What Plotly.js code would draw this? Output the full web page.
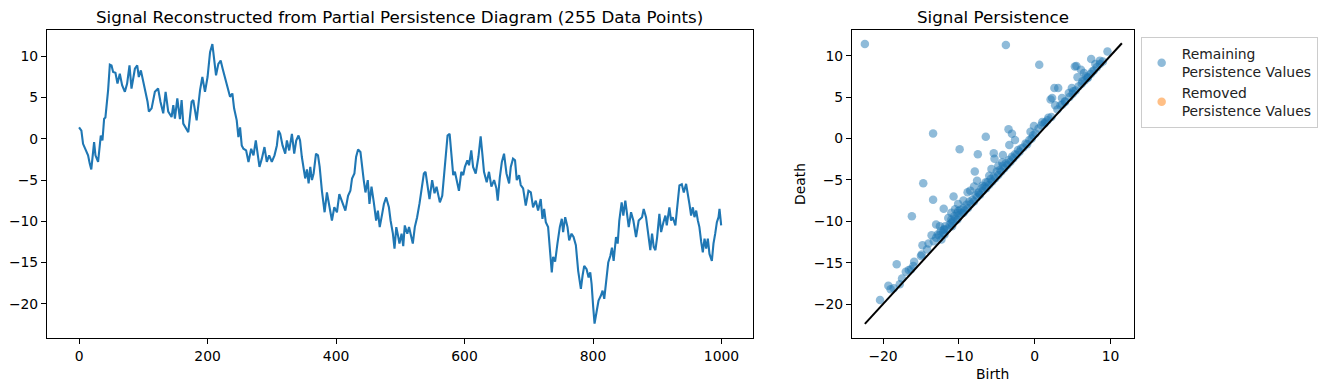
<!DOCTYPE html>
<html>
<head>
<meta charset="utf-8">
<script src="https://cdn.plot.ly/plotly-3.0.1.min.js"></script>
<style>html,body{margin:0;padding:0;background:#fff;}</style>
</head>
<body>
<div id="chart" style="width:1331px;height:391px;"></div>
<script>
// Signal (time index, value)
const signalT = [0,3.6,6.2,11,14,16.6,19,23.4,25.5,29.6,33.8,36.4,39,41,45.2,47.9,50.5,53,56.6,59.8,63.4,67,71.3,74.8,78.5,81.6,86.9,90.5,93,96.2,99.8,103.5,106.6,108.7,112.9,118,123,126.7,131,134.7,138.8,144,146.7,149.2,152.9,
157,159.6,162.2,165,170,175.2,177.8,183,188.3,191.9,196,200,203.9,207.5,210.1,213.2,216.8,220.4,223.5,227.3,231,235,238.6,241.3,245.4,248,250.6,253.2,255.8,260,263.7,267.9,271.5,275.1,278.3,280.8,284.5,288.6,292.2,295.9,300,304.2,307.9,310.5,313.1,316.7,320.9,323.5,327.1,331.3,334.9,338,341.6,
344,346.8,349.5,352,354.7,357.3,359.9,362.5,365.1,368.8,371.9,374.5,378,382.2,385.8,389.4,393.6,397.3,401.4,405.1,408.2,411.9,414.5,418.7,422.3,424.9,428.6,431.2,434.3,438,440.6,443.1,445.8,449.4,452,455.2,458.8,462.4,465.1,468,471.8,474.5,478,482.3,484.9,488.5,491,493.8,496.4,498.7,502,504.6,507,510.9,513.6,517.2,519.5,522.6,526.2,
530,533,536.7,539.3,541.9,545.5,549.6,553.3,556.4,559,561.6,565.3,569.4,573.6,576.8,579.4,582.4,585,587.6,591.3,595,598,600.6,604.4,607,610.5,613.3,617.4,621.6,625.1,627.7,630.3,634.5,638.1,641.8,646,649.6,651.7,654.9,658.1,661.5,665.3,669.4,672,675.5,678.6,681.3,684.9,687.5,691.2,695.3,699.5,703.2,706.7,710.9,714.5,
718.6,721.3,723.9,726.5,730.1,732.7,735.8,737.9,741,744.6,748.3,751.4,753.5,756.7,760.3,762.9,766.6,769.7,773.3,776.9,781.1,783.7,786.3,790,793.1,795.7,797.8,800.3,802.4,805.5,808.6,812.3,814.9,817.5,820.1,823.7,826.9,829.5,832.1,835.8,838.4,840.9,844.6,847.2,850.3,852.4,855.6,859.2,862.8,867,871.1,
876.3,878.9,882.5,886.1,889.2,891.9,894.5,897.1,899.7,903.3,906,909.6,912.7,914.8,918.9,921.5,924.1,928.2,932,934.5,938.2,941.3,944.9,947.5,950.1,952.7,955.4,957.9,960.6,963.2,965.6,968.4,970.9,973.6,976.2,978.7,981.3,985,987.5,990.2,992.8,995.4,996.9,999.5];
const signalV = [1.4,1.0,-0.6,-1.4,-2.0,-3.0,-3.7,-0.4,-2.0,-2.8,0.4,-0.2,2.45,2.6,5.9,9.0,8.9,8.1,8.0,6.7,7.9,6.5,5.7,6.7,8.9,6.1,8.5,8.9,7.5,8.3,7.1,5.5,4.5,3.3,3.7,5.7,6.1,4.5,3.1,5.7,3.3,2.65,4.1,2.45,4.9,
2.4,4.7,1.85,1.5,0.8,4.5,4.7,2.25,5.9,7.5,5.7,7.5,10.5,11.5,9.9,7.7,9.1,9.5,8.5,7.3,6.5,5.1,5.5,3.7,2.25,0.2,1.4,-0.8,-1.2,-1.4,-2.8,-1.2,-2.0,-0.2,-2.0,-3.4,-2.4,-1.0,-2.8,-2.0,-2.8,-2.0,-0.8,1.0,0.6,-0.8,-1.8,-0.2,-1.4,0.6,-1.8,-0.2,0.4,
-0.2,-2.2,-3.4,-4.8,-3.7,-5.4,-3.4,-5.0,-4.2,-1.8,-2.0,-3.4,-6.3,-8.9,-6.5,-8.0,-9.9,-8.3,-8.9,-6.7,-7.3,-8.0,-8.7,-6.9,-6.3,-4.8,-4.2,-2.2,-1.3,-1.6,-3.7,-5.0,-6.5,-5.0,-7.9,-5.8,-7.7,-9.9,-8.7,-10.7,-9.1,-7.9,-7.1,-8.3,-9.9,-11.5,-13.3,-10.7,-11.7,-12.7,-11.5,-13.0,-10.5,-11.5,-10.7,-12.0,-12.7,-10.7,-9.5,
-7.8,-6.05,-4.2,-4.0,-5.3,-7.3,-5.0,-6.6,-5.8,-7.0,-7.7,-6.9,-3.4,0.4,0.6,-1.8,-4.4,-4.0,-4.9,-6.3,-4.0,-4.4,-3.4,-2.6,-3.2,-1.4,-3.4,-4.2,-2.2,0.3,-1.8,-4.0,-5.25,-4.0,-5.8,-5.0,-6.0,-7.5,-4.7,-2.8,-1.8,-4.2,-5.4,-3.4,-2.4,-2.6,-5.0,-4.4,-5.6,-6.0,-8.1,-6.3,-6.5,-8.3,-7.5,-8.7,
-7.3,-9.7,-8.5,-10.1,-10.7,-13.1,-16.2,-14.3,-14.9,-12.7,-10.7,-9.7,-11.3,-9.5,-10.7,-12.3,-11.5,-11.9,-12.9,-16.0,-18.2,-16.6,-15.4,-15.8,-16.8,-16.2,-17.6,-20.4,-22.4,-21.0,-19.6,-19.0,-18.4,-19.4,-17.8,-15.0,-14.2,-13.2,-14.8,-11.9,-12.7,-9.9,-7.7,-9.3,-7.5,-8.7,-10.7,-8.9,-9.9,-11.9,-9.9,
-9.5,-8.5,-9.5,-12.1,-13.5,-11.5,-13.1,-13.5,-12.0,-9.1,-11.3,-10.1,-9.3,-10.5,-8.3,-9.9,-9.5,-10.5,-7.9,-5.65,-5.5,-6.5,-5.45,-6.5,-7.9,-9.3,-8.3,-9.5,-8.7,-9.9,-10.7,-12.5,-13.75,-12.1,-13.3,-12.1,-13.95,-14.8,-12.7,-11.5,-10.1,-9.5,-8.5,-10.5];

// Persistence diagram (birth, death)
const birth = [-22.4,-3.8,9.6,0.6,-13.4,-6.45,-9.9,-7.5,-14.7,-13.4,-7.9,-7.6,-16.2,-10.7,-12.0,-18.2,-20.4,-19.3,-19.0,-17.8,-17.0,-16.6,-15.9,-14.8,-14.9,-14.0,-13.6,-13.0,-12.5,-12.8,-12.3,
5.5,5.3,7.45,8.6,8.0,5.65,6.3,6.75,7.0,7.6,6.5,6.1,2.6,3.1,2.1,2.3,2.7,3.6,3.65,4.9,5.1,4.5,4.0,1.0,1.4,1.8,-0.1,-0.55,-3.45,-3.0,-2.6,-3.35,-4.2,-4.3,-5.3,-5.4,-4.8,-5.7,-6.0,-6.45,-6.9,-7.4,-8.0,-8.5,-8.85,-9.4,-10.1,-10.5,-11.0,-10.1,-9.4,-11.4,-11.0,-10.2,-11.9,-12.1,-11.9,-10.9,
-12.0,-11.8,-11.5,-11.2,-11.0,-10.8,-10.6,-10.4,-10.2,-10.0,-9.8,-9.6,-9.4,-9.2,-9.0,-8.8,-8.6,-8.4,-8.2,-8.0,-7.8,-7.6,-7.4,-7.2,-7.0,-6.8,-6.6,-6.4,-6.2,-6.0,-5.8,-5.6,-5.4,-5.2,-5.0,-4.8,-4.6,-4.4,-4.2,-4.0,-3.8,-3.6,-3.4,-3.2,-3.0,-2.8,-2.6,-2.4,-2.2,-2.0,-1.8,-1.5,-1.2,-1.0,-0.7,-0.4,-0.2,0.1,0.5,0.9,1.3,1.7,2.2,3.0,3.4,4.0,4.6,5.0,5.4,5.8,6.2,6.6,7.0,7.4,7.8,8.2,8.6,9.0,
-13.0,-12.6,-12.4,-13.3,-14.2,-15.0,-16.0,-16.3,-17.5,-18.6];
const death = [11.4,11.3,10.5,8.9,0.6,0.2,-1.3,-1.9,-5.4,-7.4,-4.0,-5.1,-9.4,-7.0,-8.5,-15.2,-19.5,-17.8,-18.2,-17.6,-16.1,-15.9,-14.9,-12.9,-14.0,-12.7,-11.7,-10.4,-10.6,-11.6,-12.2,
8.75,8.7,9.6,9.4,9.0,7.4,6.9,7.5,7.3,8.1,7.9,8.3,6.1,6.1,4.7,4.9,4.0,4.9,4.1,6.1,5.7,5.5,4.5,2.0,1.95,2.5,1.5,0.8,1.1,0.57,-0.2,-0.8,-2.0,-2.9,-2.45,-1.8,-3.3,-3.7,-4.5,-5.3,-5.7,-6.5,-5.8,-6.3,-6.5,-7.5,-7.9,-8.55,-8.96,-8.75,-8.96,-9.6,-10.2,-9.8,-11.0,-11.4,-11.6,-10.6,
-11.0,-10.6,-10.9,-10.4,-9.8,-10.0,-9.4,-9.7,-9.0,-9.3,-8.6,-9.0,-8.4,-8.7,-8.0,-8.4,-7.6,-7.9,-7.4,-7.6,-6.8,-7.1,-6.6,-6.8,-6.0,-6.3,-5.8,-6.0,-5.3,-5.6,-4.9,-5.2,-4.6,-4.8,-4.0,-4.4,-3.8,-4.0,-3.3,-3.6,-3.0,-3.2,-2.6,-2.8,-2.2,-2.4,-1.9,-2.0,-1.4,-1.6,-1.2,-1.1,-0.6,-0.7,-0.2,0.0,0.4,0.6,1.2,1.6,1.8,2.2,2.6,3.5,4.0,4.4,5.0,5.4,5.8,6.3,6.6,7.0,7.4,7.8,8.2,8.6,9.0,9.3,
-12.0,-11.7,-11.2,-12.4,-13.4,-14.2,-15.4,-15.8,-16.9,-18.1];

const leftTitle = "Signal Reconstructed from Partial Persistence Diagram (255 Data Points)";
const rightTitle = "Signal Persistence";
const legendNames = ["Remaining<br>Persistence Values", "Removed<br>Persistence Values"];
const xTicksLeft = [0,200,400,600,800,1000];

const lo = Math.min(...signalV), hi = Math.max(...signalV);
const F = "DejaVu Sans, Arial, sans-serif";
const blue = "#1f77b4", orange = "#ff7f0e";

const traces = [
  {x: signalT, y: signalV, type: "scatter", mode: "lines", line: {color: blue, width: 2.1}, showlegend: false, xaxis: "x", yaxis: "y", hoverinfo: "skip"},
  {x: birth, y: death, type: "scatter", mode: "markers", name: legendNames[0], marker: {color: blue, size: 8.5, opacity: 0.5, line: {width: 0}}, xaxis: "x2", yaxis: "y2"},
  {x: [null], y: [null], type: "scatter", mode: "markers", name: legendNames[1], marker: {color: orange, size: 8.5, opacity: 0.5, line: {width: 0}}, xaxis: "x2", yaxis: "y2"},
  {x: [lo, hi], y: [lo, hi], type: "scatter", mode: "lines", line: {color: "black", width: 2}, showlegend: false, xaxis: "x2", yaxis: "y2"}
];

const ax = {showline: true, mirror: true, linecolor: "black", linewidth: 1, ticks: "outside", ticklen: 5, tickwidth: 1, tickcolor: "black",
  showgrid: false, zeroline: false, tickfont: {family: F, size: 13.9, color: "black"}};

const yTop = 0.9233, yBot = 0.1355;
const layout = {
  width: 1331, height: 391, margin: {l: 0, r: 0, t: 0, b: 0},
  paper_bgcolor: "white", plot_bgcolor: "white",
  font: {family: F, size: 13.9, color: "black"},
  xaxis: Object.assign({}, ax, {domain: [0.0353, 0.5657], range: [-49.95, 1048.95], tickvals: xTicksLeft, anchor: "y"}),
  yaxis: Object.assign({}, ax, {domain: [yBot, yTop], range: [-24.15, 13.2], dtick: 5, anchor: "x"}),
  xaxis2: Object.assign({}, ax, {domain: [0.6401, 0.852], range: [-24.1, 13.1], dtick: 10, anchor: "y2"}),
  yaxis2: Object.assign({}, ax, {domain: [yBot, yTop], range: [-24.1, 13.1], dtick: 5, anchor: "x2"}),
  legend: {x: 0.857, y: 0.905, xanchor: "left", yanchor: "top", bgcolor: "white", bordercolor: "#cccccc", borderwidth: 1,
    font: {family: F, size: 13.9, color: "#222"}, tracegroupgap: 0},
  annotations: [
    {text: leftTitle, xref: "paper", yref: "paper", x: (0.0353 + 0.5657) / 2, y: 0.9565, xanchor: "center", yanchor: "middle", showarrow: false, font: {family: F, size: 16.7, color: "black"}},
    {text: rightTitle, xref: "paper", yref: "paper", x: (0.6401 + 0.852) / 2, y: 0.9565, xanchor: "center", yanchor: "middle", showarrow: false, font: {family: F, size: 16.7, color: "black"}},
    {text: "Birth", xref: "paper", yref: "paper", x: (0.6401 + 0.852) / 2, y: 0.0435, xanchor: "center", yanchor: "middle", showarrow: false, font: {family: F, size: 13.9, color: "black"}},
    {text: "Death", xref: "paper", yref: "paper", x: 0.601, y: 0.5294, xanchor: "center", yanchor: "middle", textangle: -90, showarrow: false, font: {family: F, size: 13.9, color: "black"}}
  ]
};

Plotly.newPlot("chart", traces, layout, {displayModeBar: false, staticPlot: true});
</script>
</body>
</html>
